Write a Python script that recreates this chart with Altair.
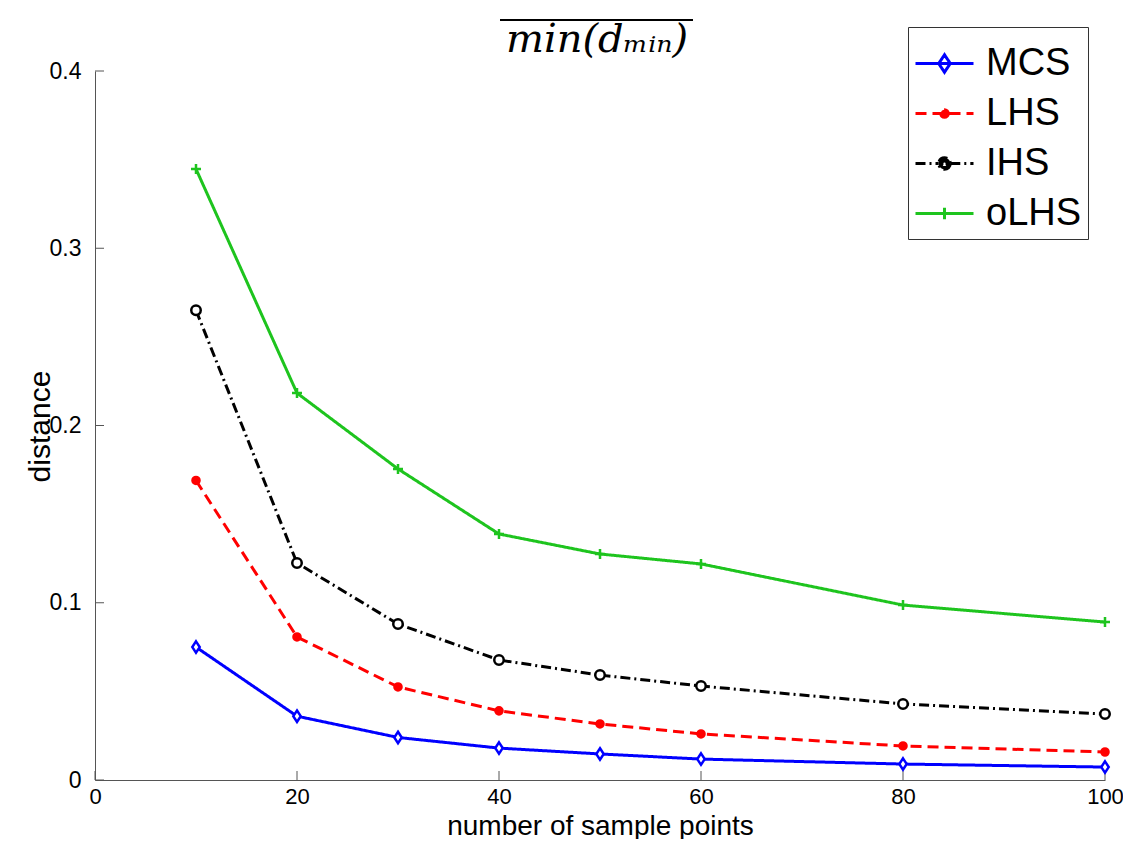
import altair as alt
import pandas as pd

x_vals = [10, 20, 30, 40, 50, 60, 80, 100]
methods = ["MCS", "LHS", "IHS", "oLHS"]
mcs = [0.075, 0.036, 0.024, 0.018, 0.0147, 0.0118, 0.009, 0.0073]
lhs = [0.169, 0.0807, 0.0525, 0.039, 0.0316, 0.026, 0.0192, 0.0158]
ihs = [0.265, 0.1224, 0.088, 0.0677, 0.0592, 0.053, 0.0429, 0.0372]
olhs = [0.3447, 0.2183, 0.1755, 0.1388, 0.1275, 0.1219, 0.0987, 0.0891]
x_ticks = [0, 20, 40, 60, 80, 100]
y_ticks = [0, 0.1, 0.2, 0.3, 0.4]
title_text = "min(dₘᵢₙ)"

colors = ["#0000ff", "#ff0000", "#000000", "#1ec41e"]
dashes = [[1, 0], [11, 6], [10, 4, 2, 4], [1, 0]]

# data-point marker styles (shape path, size, fill)
DIAMOND = "M0,-1L0.65,0L0,1L-0.65,0Z"
PLUS = "M-1,0L1,0M0,-1L0,1"
marker_style = {
    "MCS": dict(shape=DIAMOND, size=130, fill="white"),
    "LHS": dict(shape="circle", size=50, fill="#ff0000"),
    "IHS": dict(shape="circle", size=90, fill="white"),
    "oLHS": dict(shape=PLUS, size=100, fill="transparent"),
}

# legend symbols: line with marker drawn in a single path
leg_shapes = [
    "M-1,0L1,0M0,-0.3L0.2,0L0,0.3L-0.2,0Z",
    "M-1,0L1,0M0.13,0A0.13,0.13 0 1,1 -0.13,0A0.13,0.13 0 1,1 0.13,0Z",
    "M-1,0L-0.2,0M0.2,0L1,0M0.2,0A0.2,0.2 0 1,1 -0.2,0A0.2,0.2 0 1,1 0.2,0Z"
    "M0.09,0A0.09,0.09 0 1,0 -0.09,0A0.09,0.09 0 1,0 0.09,0Z",
    "M-1,0L1,0M0,-0.2L0,0.2",
]
leg_fills = ["white", "#ff0000", "#000000", "transparent"]

series = {"MCS": mcs, "LHS": lhs, "IHS": ihs, "oLHS": olhs}
rows = []
for m in methods:
    for xv, yv in zip(x_vals, series[m]):
        rows.append({"n": xv, "d": yv, "method": m})
df = pd.DataFrame(rows)

FONT = "Liberation Sans"
W, H = 1010, 709

xscale = alt.Scale(domain=[0, 100], nice=False, zero=False)
yscale = alt.Scale(domain=[0, 0.4], nice=False)

xaxis = alt.Axis(values=x_ticks, title="number of sample points", ticks=False,
                 grid=False, domainColor="#555555", domainWidth=1,
                 labelFlush=False, labelOverlap=False,
                 labelFont=FONT, labelFontSize=22, labelColor="black",
                 labelPadding=6, titleFont=FONT, titleFontSize=28,
                 titleFontWeight="normal", titleColor="black",
                 titleX=505, titleY=54, titleBaseline="alphabetic", titleAlign="center")
yaxis = alt.Axis(values=y_ticks, title="distance", ticks=False, grid=False,
                 domainColor="#555555", domainWidth=1, format="~g",
                 labelFlush=False, labelOverlap=False,
                 labelFont=FONT, labelFontSize=23, labelColor="black",
                 labelPadding=14, titleFont=FONT, titleFontSize=30,
                 titleFontWeight="normal", titleColor="black",
                 titleX=-55, titleY=355, titleBaseline="middle", titleAlign="center",
                 titleAngle=270)

legend = alt.Legend(title=None, orient="none", legendX=813, legendY=-44,
                    symbolSize=3364, symbolStrokeWidth=3,
                    labelFont=FONT, labelFontSize=38, labelColor="black",
                    rowPadding=-2, strokeColor="#333333", fillColor="white",
                    padding=6, labelOffset=11, labelLimit=300)

base = alt.Chart(df)

# legend-only layer (draws no data marks)
leg = base.transform_filter("false").mark_point(strokeWidth=3, opacity=1).encode(
    x=alt.X("n:Q", scale=xscale, axis=xaxis),
    y=alt.Y("d:Q", scale=yscale, axis=yaxis),
    stroke=alt.Stroke("method:N", scale=alt.Scale(domain=methods, range=colors), legend=legend),
    fill=alt.Fill("method:N", scale=alt.Scale(domain=methods, range=leg_fills), legend=legend),
    shape=alt.Shape("method:N", scale=alt.Scale(domain=methods, range=leg_shapes), legend=legend),
    strokeDash=alt.StrokeDash("method:N", scale=alt.Scale(domain=methods, range=dashes), legend=legend),
)

lines = base.mark_line(strokeWidth=3).encode(
    x="n:Q",
    y="d:Q",
    stroke=alt.Stroke("method:N", scale=alt.Scale(domain=methods, range=colors), legend=legend),
    strokeDash=alt.StrokeDash("method:N", scale=alt.Scale(domain=methods, range=dashes), legend=legend),
)

point_layers = []
for m, col in zip(methods, colors):
    st = marker_style[m]
    point_layers.append(
        base.transform_filter(alt.datum.method == m).mark_point(
            shape=st["shape"], size=st["size"], fill=st["fill"], stroke=col,
            strokeWidth=2.5, opacity=1, fillOpacity=1).encode(x="n:Q", y="d:Q")
    )

xt = alt.Chart(pd.DataFrame({"t": x_ticks})).mark_rule(color="#555555", strokeWidth=1).encode(
    x=alt.X("t:Q", scale=xscale), y=alt.value(H), y2=alt.value(H - 9))
yt = alt.Chart(pd.DataFrame({"v": y_ticks})).mark_rule(color="#555555", strokeWidth=1).encode(
    y=alt.Y("v:Q", scale=yscale), x=alt.value(0), x2=alt.value(9))

ttl = alt.Chart(pd.DataFrame({"t": [title_text]})).mark_text(
    font="DejaVu Serif", fontStyle="italic", fontSize=40, color="black",
    align="center", baseline="alphabetic").encode(
    text="t:N", x=alt.value(502), y=alt.value(-19))
overline = alt.Chart(pd.DataFrame({"t": [title_text]})).mark_rule(color="black", strokeWidth=2).encode(
    x=alt.value(405), x2=alt.value(598), y=alt.value(-51))

chart = alt.layer(leg, xt, yt, lines, *point_layers, ttl, overline).properties(
    width=W, height=H,
    autosize=alt.AutoSizeParams(type="none"),
    padding={"left": 87, "top": 63, "right": 18, "bottom": 59},
).configure(background="white").configure_view(strokeWidth=0, stroke="transparent")

chart.save("out.html", embed_options={"renderer": "svg", "actions": False})
